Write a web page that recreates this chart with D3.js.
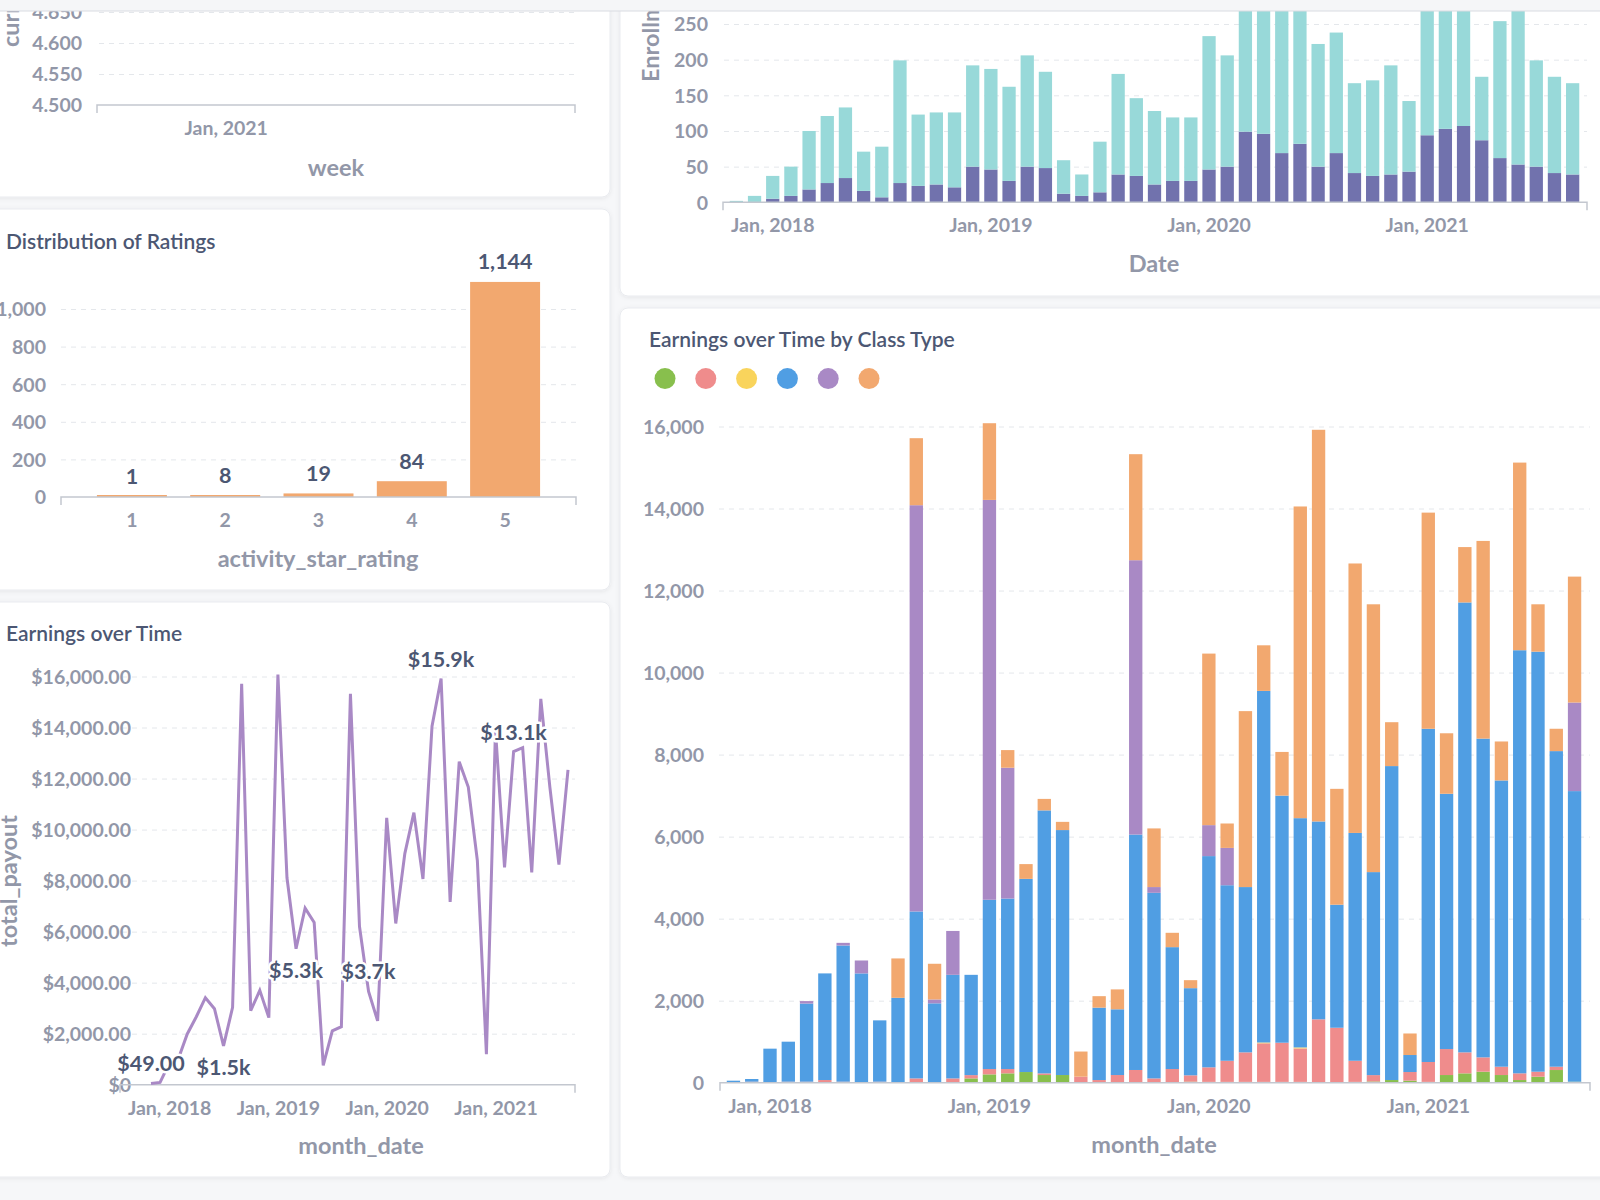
<!DOCTYPE html>
<html>
<head>
<meta charset="utf-8">
<script src="https://cdn.jsdelivr.net/npm/d3@7/dist/d3.min.js"></script>
<style>
html,body{margin:0;padding:0;background:#f6f7f9;}
svg{display:block;font-family:Lato,"Noto Sans",sans-serif;}
</style>
</head>
<body>
<svg id="c" width="1600" height="1200"></svg>
<script>
// ================= DATA =================
const months = ["2017-11","2017-12",
  "2018-01","2018-02","2018-03","2018-04","2018-05","2018-06","2018-07","2018-08","2018-09","2018-10","2018-11","2018-12",
  "2019-01","2019-02","2019-03","2019-04","2019-05","2019-06","2019-07","2019-08","2019-09","2019-10","2019-11","2019-12",
  "2020-01","2020-02","2020-03","2020-04","2020-05","2020-06","2020-07","2020-08","2020-09","2020-10","2020-11","2020-12",
  "2021-01","2021-02","2021-03","2021-04","2021-05","2021-06","2021-07","2021-08","2021-09"];
const yearTickMonths = ["2018-01","2019-01","2020-01","2021-01"];
const yearTickLabels = ["Jan, 2018","Jan, 2019","Jan, 2020","Jan, 2021"];

// Top-left (weekly rating) panel
const weekDomain = ["2020-09-25","2021-09-24"];
const weekTickDates = ["2021-01-01"];
const weekTickLabels = ["Jan, 2021"];
const ratingAvgTicks = [4.5, 4.55, 4.6, 4.65];

// Enrollments (stacked: bottom indigo, top teal)
const enrollBottom = [0,0,5,9,18,27,34,16,7,27,23,25,21,50,46,30,50,48,12,9,14,39,37,25,30,30,46,50,99,96,69,82,50,69,41,37,39,43,94,103,107,87,62,53,50,41,39];
const enrollTop    = [2,9,32,41,82,94,99,55,71,172,100,101,105,142,141,132,156,135,47,30,71,141,109,103,89,89,187,156,191,204,216,228,172,169,126,134,153,99,226,197,183,89,192,227,149,135,128];
const enrollTicks = [0,50,100,150,200,250];

// Distribution of ratings
const ratingCats = ["1","2","3","4","5"];
const ratingCounts = [1,8,19,84,1144];
const ratingTicks = [0,200,400,600,800,1000];

// Earnings by class type (stack order bottom -> top)
const classGreen  = [0,0,0,0,0,0,0,0,0,0,0,0,0,105,203,228,260,187,187,0,0,0,0,0,0,25,20,20,20,20,20,20,0,0,20,30,65,50,20,187,228,268,187,65,146,309,25];
const classPink   = [0,25,0,25,25,65,25,0,25,0,105,0,105,80,130,105,0,40,0,146,65,187,310,105,333,155,355,515,720,940,955,815,1545,1340,515,155,0,210,485,633,512,350,203,163,122,81,0];
const classYellow = [0,0,0,0,0,0,0,0,0,0,0,0,0,0,0,0,0,0,0,0,0,0,0,0,0,0,0,0,0,20,0,25,0,0,0,0,0,0,0,0,0,0,0,0,0,0,0];
const classBlue   = [49,65,830,975,1905,2600,3320,2665,1495,2070,4070,1935,2525,2445,4127,4157,4710,6413,5973,0,1765,1603,5740,4525,2972,2125,5150,4280,4030,8573,6025,5590,4825,3000,5555,4950,7655,415,8125,6225,10970,7772,6980,10317,10242,7695,7085];
const classPurple = [0,0,0,0,60,0,65,315,0,0,9906,95,1070,0,9750,3190,0,0,0,0,0,0,6690,140,0,0,755,910,0,0,0,0,0,0,0,0,0,0,0,0,0,0,0,0,0,0,2160];
const classOrange = [0,0,0,0,0,0,0,0,0,960,1634,870,0,0,1870,430,360,280,200,614,280,485,2585,1430,350,195,4183,595,4290,1112,1065,7600,9550,2825,6570,6530,1070,525,5270,1475,1350,4820,950,4575,1155,545,3070];
const classKeys = ["green","pink","yellow","blue","purple","orange"];
const classColors = ["#88bf4d","#ef8c8c","#f9d45c","#509ee3","#a989c5","#f2a86f"];
const earnTicks = [0,2000,4000,6000,8000,10000,12000,14000,16000];

// Earnings over time (total payout per month)
const totalPayout = [49,90,830,1000,1990,2665,3410,2980,1520,3030,15715,2900,3700,2630,16080,8110,5330,6920,6360,760,2110,2275,15325,6200,3655,2500,10463,6320,9060,10665,8065,14050,15920,7165,12660,11665,8790,1200,13900,8520,13060,13210,8320,15120,11665,8630,12340];
const payoutTicks = [0,2000,4000,6000,8000,10000,12000,14000,16000];
const payoutLabelMonths = ["2017-11","2018-07","2019-03","2019-11","2020-07","2021-03"];
const payoutLabelSide   = ["above","below","below","above","above","above"];

// ================= STYLE =================
const TICK = "#9297a8", DARK = "#4c5773", GRID = "#e4e7eb", AXIS = "#c3c7cf";
const TICK_SIZE = 19.5, AXT_SIZE = 23.5, TITLE_SIZE = 21, LBL_SIZE = 21.5;
const svg = d3.select("#c");
const defs = svg.append("defs");
const f = defs.append("filter").attr("id","sh").attr("x","-5%").attr("y","-5%").attr("width","110%").attr("height","110%");
f.append("feDropShadow").attr("dx",0).attr("dy",1).attr("stdDeviation",2).attr("flood-color","#000").attr("flood-opacity",0.07);

svg.append("rect").attr("width",1600).attr("height",1200).attr("fill","#f6f7f9");

function card(x,y,w,h){
  svg.append("rect").attr("x",x).attr("y",y).attr("width",w).attr("height",h).attr("rx",8)
    .attr("fill","#fff").attr("stroke","#e9ebef").attr("filter","url(#sh)");
  return svg.append("g");
}
function title(g,text,x,y){
  g.append("text").attr("x",x).attr("y",y).attr("dominant-baseline","middle")
    .attr("font-size",TITLE_SIZE).attr("font-weight",600).attr("fill",DARK).text(text);
}
function yAxis(g,scale,ticks,fmt,xLabel,gx0,gx1){
  const grid = g.append("g").attr("transform",`translate(${gx0},0)`)
    .call(d3.axisLeft(scale).tickValues(ticks.filter(t=>t!==ticks[0])).tickSize(-(gx1-gx0)).tickFormat(""));
  grid.select(".domain").remove();
  grid.selectAll("line").attr("stroke",GRID).attr("stroke-dasharray","5,5").attr("stroke-width",1);
  const ax = g.append("g").attr("transform",`translate(${xLabel},0)`)
    .call(d3.axisLeft(scale).tickValues(ticks).tickFormat(fmt).tickSize(0).tickPadding(0));
  ax.select(".domain").remove();
  ax.selectAll("text").attr("font-family","Lato,sans-serif").attr("font-size",TICK_SIZE).attr("font-weight",700)
    .attr("fill",TICK).attr("dy","0.35em");
}
function baseline(g,x0,x1,y){
  g.append("path").attr("d",`M${x0},${y+8}V${y}H${x1}V${y+8}`)
    .attr("fill","none").attr("stroke",AXIS).attr("stroke-width",1.5);
}
function xTicks(g,scale,vals,labels,y){
  const ax = g.append("g").attr("transform",`translate(0,${y})`)
    .call(d3.axisBottom(scale).tickValues(vals).tickFormat((d,i)=>labels[i]).tickSize(0).tickPadding(0));
  ax.select(".domain").remove();
  ax.selectAll("text").attr("font-family","Lato,sans-serif").attr("font-size",TICK_SIZE).attr("font-weight",700)
    .attr("fill",TICK).attr("y",23).attr("dy","0.35em");
}
function axisTitle(g,text,x,y,rot){
  const t = g.append("text").attr("font-size",AXT_SIZE).attr("font-weight",700).attr("fill",TICK)
    .attr("dominant-baseline","middle").text(text);
  if(rot){ t.attr("transform",`translate(${x},${y}) rotate(-90)`).attr("text-anchor",rot); }
  else { t.attr("x",x).attr("y",y).attr("text-anchor","middle"); }
}
function bandCenter(scale,k){ return scale(k)+scale.bandwidth()/2; }

// ============ PANEL A: top-left (weekly) ============
{
  const g = card(-23,-200,633,397);
  const y = d3.scaleLinear().domain([4.5,4.65]).range([105,12]);
  const x = d3.scaleTime().domain(weekDomain.map(d=>new Date(d+"T00:00:00"))).range([97,575]);
  yAxis(g,y,ratingAvgTicks,d3.format(".3f"),82,99,575);
  baseline(g,97,575,105);
  xTicks(g,x,weekTickDates.map(d=>new Date(d+"T00:00:00")),weekTickLabels,105);
  axisTitle(g,"week",336,170);
  axisTitle(g,"current_rating",13,47,"start");
}

// ============ PANEL B: Distribution of Ratings ============
{
  const g = card(-23,209,633,381);
  title(g,"Distribution of Ratings",6,244);
  const x = d3.scaleBand().domain(ratingCats).range([61,576]).paddingInner(0.25).paddingOuter(0.385);
  const y = d3.scaleLinear().domain([0,1000]).range([497,309]);
  yAxis(g,y,ratingTicks,d3.format(","),46,61,576);
  g.selectAll("rect.bar").data(ratingCounts).join("rect").attr("class","bar")
    .attr("x",(d,i)=>x(ratingCats[i])).attr("width",x.bandwidth())
    .attr("y",d=>Math.min(y(d),y(0)-2)).attr("height",d=>Math.max(2,y(0)-y(d))).attr("fill","#f2a86f");
  baseline(g,61,576,497);
  xTicks(g,x,ratingCats,ratingCats,497);
  g.selectAll("text.lbl").data(ratingCounts).join("text").attr("class","lbl")
    .attr("x",(d,i)=>bandCenter(x,ratingCats[i])).attr("y",d=>y(d)-18)
    .attr("text-anchor","middle").attr("dominant-baseline","middle")
    .attr("font-size",LBL_SIZE).attr("font-weight",700).attr("fill",DARK)
    .attr("stroke","#fff").attr("stroke-width",4).attr("paint-order","stroke")
    .text(d=>d3.format(",")(d));
  axisTitle(g,"activity_star_rating",318,561);
}

// ============ PANEL C: Earnings over Time ============
{
  const g = card(-23,602,633,575);
  title(g,"Earnings over Time",6,636);
  const x = d3.scalePoint().domain(months).range([151,568]);
  const y = d3.scaleLinear().domain([0,16000]).range([1084.7,676.5]);
  yAxis(g,y,payoutTicks,v=>v===0?"$0":d3.format("$,.2f")(v),131,122,575);
  baseline(g,120,575,1084.7);
  xTicks(g,x,yearTickMonths,yearTickLabels,1084.7);
  const line = d3.line().x((d,i)=>x(months[i])).y(d=>y(d));
  g.append("path").datum(totalPayout).attr("d",line).attr("fill","none")
    .attr("stroke","#a989c5").attr("stroke-width",3);
  const fmt = v => v<1000 ? "$"+v.toFixed(2) : "$"+(v/1000).toFixed(1)+"k";
  g.selectAll("text.pl").data(payoutLabelMonths).join("text").attr("class","pl")
    .attr("x",m=>x(m))
    .attr("y",(m,i)=>{const v=totalPayout[months.indexOf(m)]; return y(v)+(payoutLabelSide[i]==="above"?-17.5:23.5);})
    .attr("text-anchor","middle").attr("dominant-baseline","middle")
    .attr("font-size",LBL_SIZE).attr("font-weight",700).attr("fill",DARK)
    .attr("stroke","#fff").attr("stroke-width",5).attr("paint-order","stroke").attr("stroke-linejoin","round")
    .text(m=>fmt(totalPayout[months.indexOf(m)]));
  axisTitle(g,"month_date",361,1148);
  axisTitle(g,"total_payout",11,881,"middle");
}

// ============ PANEL D: Enrollments ============
{
  const g = card(620,-200,1000,496);
  const x = d3.scaleBand().domain(months).range([723,1586]).paddingInner(0.27).paddingOuter(0.37);
  const y = d3.scaleLinear().domain([0,250]).range([202.3,24]);
  yAxis(g,y,enrollTicks,d3.format(","),708,724,1587);
  const rows = months.map((m,i)=>({m, bottom:enrollBottom[i], top:enrollTop[i]}));
  const stack = d3.stack().keys(["bottom","top"])(rows);
  const cols = ["#7172ad","#98d9d9"];
  stack.forEach((s,si)=>{
    g.append("g").selectAll("rect").data(s).join("rect")
      .attr("x",d=>x(d.data.m)).attr("width",x.bandwidth())
      .attr("y",d=>y(d[1])).attr("height",d=>Math.max(0,y(d[0])-y(d[1]))).attr("fill",cols[si]);
  });
  baseline(g,723,1587,202.3);
  xTicks(g,x,yearTickMonths,yearTickLabels,202.3);
  axisTitle(g,"Date",1154,266);
  axisTitle(g,"Enrollments",653,82,"start");
}

// ============ PANEL E: Earnings over Time by Class Type ============
{
  const g = card(620,308,1000,869);
  title(g,"Earnings over Time by Class Type",649,342);
  const legendX = d3.scalePoint().domain(classKeys).range([665,869]);
  g.selectAll("circle.lg").data(classKeys).join("circle").attr("class","lg")
    .attr("cx",k=>legendX(k)).attr("cy",378.6).attr("r",10.5).attr("fill",(k,i)=>classColors[i]);
  const x = d3.scaleBand().domain(months).range([720,1588]).paddingInner(0.27).paddingOuter(0.37);
  const y = d3.scaleLinear().domain([0,16000]).range([1082.7,426.5]);
  yAxis(g,y,earnTicks,d3.format(","),704,719,1590);
  const series = [classGreen,classPink,classYellow,classBlue,classPurple,classOrange];
  const rows = months.map((m,i)=>{const o={m}; classKeys.forEach((k,j)=>o[k]=series[j][i]); return o;});
  const stack = d3.stack().keys(classKeys)(rows);
  stack.forEach((s,si)=>{
    g.append("g").selectAll("rect").data(s).join("rect")
      .attr("x",d=>x(d.data.m)).attr("width",x.bandwidth())
      .attr("y",d=>y(d[1])).attr("height",d=>Math.max(0,y(d[0])-y(d[1]))).attr("fill",classColors[si]);
  });
  baseline(g,720,1590,1082.7);
  xTicks(g,x,yearTickMonths,yearTickLabels,1082.7);
  axisTitle(g,"month_date",1154,1147);
}

// ============ header strip (page scrolled under it) ============
svg.append("rect").attr("x",0).attr("y",0).attr("width",1600).attr("height",11).attr("fill","#f5f6f8");
svg.append("line").attr("x1",0).attr("x2",1600).attr("y1",11).attr("y2",11).attr("stroke","#d9dce2").attr("stroke-width",1);
</script>
</body>
</html>
